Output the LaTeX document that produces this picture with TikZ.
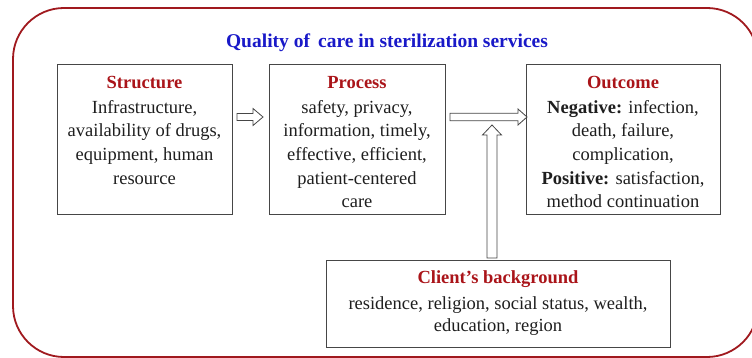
\documentclass[tikz,border=0pt]{standalone}
\usepackage{fontspec}
\setmainfont{Liberation Serif}
\definecolor{frame}{RGB}{160,25,30}
\definecolor{headred}{RGB}{170,20,25}
\definecolor{titleblue}{RGB}{25,25,200}
\definecolor{boxline}{RGB}{70,70,70}
\definecolor{txt}{RGB}{30,30,30}
\begin{document}
\begin{tikzpicture}[x=1pt,y=-1pt,
  box/.style={draw=boxline, line width=1pt, inner sep=0pt},
  boxtext/.style={anchor=north, inner sep=0pt, align=center, text=txt,
    font=\fontsize{18.5}{23.7}\selectfont},
  blockarrow/.style={draw=boxline, line width=0.8pt, fill=white, line join=miter}]
\useasboundingbox (0,0) rectangle (752,358);
% outer frame
\draw[frame, line width=1.8pt, rounded corners=51pt] (13,8) rectangle (758,357);
% title
\node[text=titleblue, font=\fontsize{19.5}{23}\selectfont\bfseries] (title) at (387,43) {Quality of\, care in sterilization services};
% boxes
\node[box, minimum width=175pt, minimum height=150pt] (s) at (144.5,140) {};
\node[box, minimum width=176pt, minimum height=150pt] (p) at (357,140) {};
\node[box, minimum width=194pt, minimum height=150pt] (o) at (623,140) {};
\node[box, minimum width=344pt, minimum height=87pt] (c) at (498,303.5) {};
% texts
\node[boxtext] (st) at ([yshift=-11.5pt]s.north) {{\color{headred}\bfseries Structure}\\[1pt]Infrastructure,\\availability of drugs,\\equipment, human\\resource};
\node[boxtext] (pt) at ([yshift=-11.5pt]p.north) {{\color{headred}\bfseries Process}\\[1pt]safety, privacy,\\information, timely,\\effective, efficient,\\patient-centered\\care};
\node[boxtext] (ot) at ([yshift=-11.5pt]o.north) {{\color{headred}\bfseries Outcome}\\[1pt]\textbf{Negative:} infection,\\death, failure,\\complication,\\\textbf{Positive:} satisfaction,\\method continuation};
\node[boxtext, font=\fontsize{18.5}{21.5}\selectfont] (ct) at ([yshift=-10.5pt]c.north) {{\color{headred}\bfseries Client’s background}\\[5pt]residence, religion, social status, wealth,\\education, region};
% arrows
\draw[blockarrow] (237,113.5) -- (253,113.5) -- (253,108.5) -- (263,117) -- (253,125.5) -- (253,120.5) -- (237,120.5) -- cycle;
\draw[blockarrow] (450,113.3) -- (518,113.3) -- (518,109) -- (527,117) -- (518,125) -- (518,120.7) -- (450,120.7) -- cycle;
\draw[blockarrow] (487,258) -- (487,135) -- (482.5,135) -- (492,125) -- (501.5,135) -- (497,135) -- (497,258) -- cycle;
\end{tikzpicture}
\end{document}
